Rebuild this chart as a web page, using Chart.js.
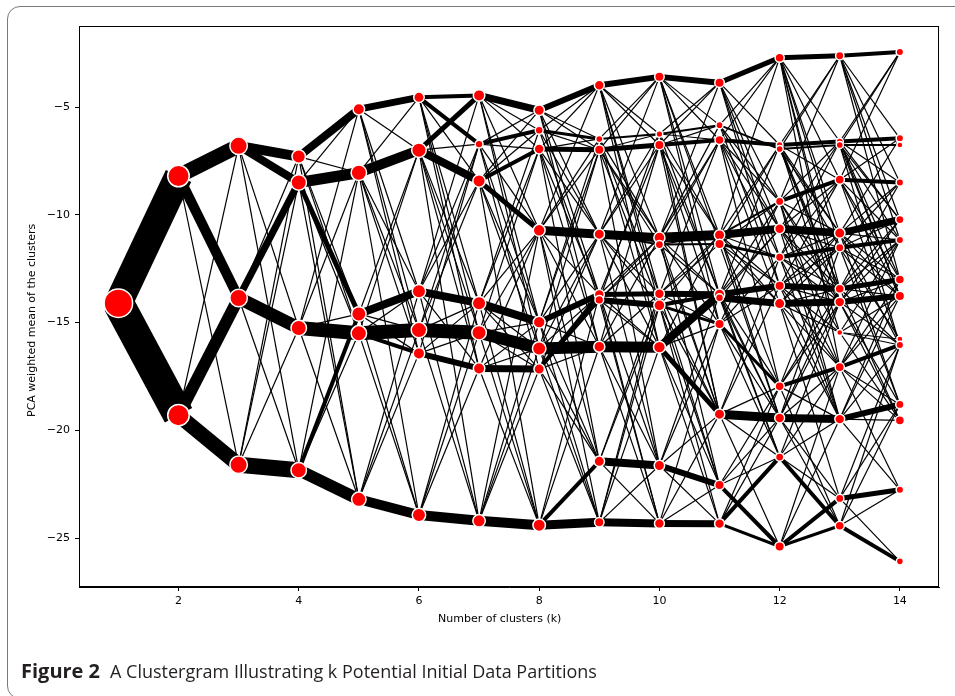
<!DOCTYPE html>
<html><head><meta charset="utf-8">
<script src="https://cdn.jsdelivr.net/npm/chart.js@4.4.1/dist/chart.umd.min.js"></script>
<style>
html,body{margin:0;padding:0;background:#fff;width:955px;height:696px;overflow:hidden;position:relative;}
#frame{position:absolute;left:7px;top:6px;width:980px;height:693px;border:1.5px solid #7a7a7a;border-radius:13px;box-sizing:border-box;}
#c{position:absolute;left:0;top:0;}
.ylab{position:absolute;left:25px;top:417px;transform-origin:0 0;transform:rotate(-90deg);font:11px "DejaVu Sans";line-height:13px;white-space:nowrap;color:#000;}
.xlab{position:absolute;left:438px;top:612px;font:11px "DejaVu Sans";line-height:13px;white-space:nowrap;color:#000;}
.capb{position:absolute;left:21px;top:657px;font:bold 20px "Open Sans",sans-serif;color:#231f20;white-space:nowrap;}
.capt{position:absolute;left:110px;top:659px;font:18px "Open Sans",sans-serif;color:#231f20;white-space:nowrap;}
</style></head>
<body>
<div id="frame"></div>
<canvas id="c" width="955" height="696"></canvas>
<div class="ylab">PCA weighted mean of the clusters</div>
<div class="xlab">Number of clusters (k)</div>
<div class="capb">Figure 2</div>
<div class="capt">A Clustergram Illustrating k Potential Initial Data Partitions</div>
<script>
const kValues = [1,2,3,4,5,6,7,8,9,10,11,12,13,14];
const xTicks = [2,4,6,8,10,12,14];
const yTicks = [-25,-20,-15,-10,-5];

// cluster means (PCA weighted) for each k
const means1 = [-14.1];
const means2 = [-8.2, -19.3];
const means3 = [-6.8, -13.86, -21.6];
const means4 = [-7.3, -8.5, -15.25, -21.85];
const means5 = [-5.1, -8.05, -14.6, -15.5, -23.2];
const means6 = [-4.55, -7.0, -13.55, -15.35, -16.43, -23.93];
const means7 = [-4.46, -6.72, -8.43, -14.1, -15.47, -17.13, -24.2];
const means8 = [-5.15, -6.08, -6.95, -10.72, -14.98, -16.2, -17.16, -24.4];
const means9 = [-3.99, -6.48, -6.98, -10.9, -13.7, -13.95, -16.12, -21.44, -24.27];
const means10 = [-3.6, -6.25, -6.76, -11.06, -11.38, -13.66, -14.2, -16.14, -21.63, -24.32];
const means11 = [-3.87, -5.84, -6.53, -10.94, -11.36, -13.69, -13.85, -15.07, -19.25, -22.54, -24.33];
const means12 = [-2.71, -6.76, -6.95, -9.38, -10.65, -11.97, -13.29, -14.12, -17.96, -19.43, -21.24, -25.39];
const means13 = [-2.62, -6.6, -6.76, -8.37, -10.85, -11.53, -13.43, -14.05, -15.46, -17.07, -19.48, -23.16, -24.43];
const means14 = [-2.45, -6.45, -6.76, -8.5, -10.22, -11.17, -13.0, -13.77, -15.77, -16.04, -18.8, -19.54, -22.76, -26.08];

// cluster weights (marker size) for each k
const weight1 = [13.5];
const weight2 = [10, 10];
const weight3 = [8, 8, 8];
const weight4 = [6, 7, 7, 7];
const weight5 = [5, 7, 6.5, 7, 6.5];
const weight6 = [4.5, 6.5, 6, 7, 5, 6];
const weight7 = [5, 3.2, 5.5, 6, 6.5, 5, 5.5];
const weight8 = [4.5, 3.2, 4.2, 5.2, 5.2, 6, 4.5, 5.5];
const weight9 = [4.2, 2.8, 4, 4.5, 4.2, 3.6, 4.8, 4.5, 4];
const weight10 = [4, 2.6, 4, 4.8, 3.4, 4.2, 4.8, 5.2, 4.5, 4.2];
const weight11 = [4, 2.8, 3.8, 4.5, 4, 4.5, 3.2, 4, 4.5, 4, 4.2];
const weight12 = [3.8, 2.6, 2.8, 3.4, 4.2, 3.4, 4, 4.5, 3.8, 4.2, 3.4, 4];
const weight13 = [3.4, 2.8, 2.8, 3.8, 4.5, 3.4, 3.8, 4.2, 2.3, 3.8, 4.2, 3.4, 3.8];
const weight14 = [3, 3, 2.3, 3, 3.4, 3, 3.8, 4, 2.3, 3, 3.4, 3.8, 3, 2.8];

// strong flows between clusters of consecutive k: [from, to, points]
const flows1 = [[0,0,28],[0,1,31]];
const flows2 = [[0,0,15],[0,1,10],[1,1,12],[1,2,15]];
const flows3 = [[0,0,10],[0,1,8],[1,1,7],[1,2,13],[2,3,16]];
const flows4 = [[0,0,8],[1,1,11],[1,2,5],[2,3,14],[3,4,12],[3,2,4]];
const flows5 = [[0,0,7],[1,1,10],[2,2,8],[3,3,14],[3,4,4],[4,5,10]];
const flows6 = [[0,0,4],[0,1,4],[1,0,5],[1,2,8],[2,3,8],[3,4,14],[4,5,6],[5,6,10]];
const flows7 = [[0,0,7],[1,1,4],[2,2,4],[2,3,5],[3,4,8],[4,5,12],[5,6,7],[6,7,10]];
const flows8 = [[0,0,6],[1,1,3],[2,2,5],[3,3,9],[4,4,6],[5,6,12],[6,4,4],[6,5,3],[7,7,4],[7,8,9]];
const flows9 = [[0,0,6],[1,1,2],[2,2,5],[3,3,9],[3,4,2],[4,5,5],[5,6,6],[6,7,11],[7,8,8],[8,9,8]];
const flows10 = [[0,0,6],[1,1,2],[2,2,4],[3,3,10],[4,4,2],[5,5,6],[6,5,4],[6,7,3],[7,5,8],[7,8,5],[8,9,6],[9,10,7]];
const flows11 = [[0,0,5],[2,1,4],[1,2,2],[3,4,8],[4,5,3],[5,6,6],[6,7,7],[7,8,3],[8,9,9],[9,11,4],[10,10,4],[10,11,3],[3,3,2]];
const flows12 = [[0,0,5],[1,1,4],[2,2,2],[3,3,4],[4,4,8],[5,5,4],[6,6,6],[7,7,7],[8,9,4],[9,10,8],[10,12,4],[11,11,4],[11,12,3]];
const flows13 = [[0,0,4],[1,1,4],[2,2,2],[3,3,4],[4,4,7],[5,5,4],[6,6,5],[7,7,6],[8,8,1],[9,9,4],[10,10,6],[11,12,5],[12,13,4]];

// single-point moves between clusters of consecutive k: [from, to]
const links1 = [];
const links2 = [[1,0],[0,2]];
const links3 = [[0,2],[0,3],[1,0],[1,3],[2,0],[2,1],[2,2]];
const links4 = [[0,1],[0,2],[0,3],[0,4],[1,0],[1,3],[1,4],[2,0],[2,1],[2,4],[3,1],[3,3],[2,2]];
const links5 = [[0,1],[0,2],[0,3],[1,0],[1,2],[1,3],[1,4],[1,5],[2,1],[2,3],[2,4],[2,5],[3,1],[3,2],[3,5],[4,2],[4,3],[4,4],[0,4]];
const links6 = [[0,2],[0,3],[0,4],[0,5],[1,1],[1,3],[1,4],[1,5],[1,6],[2,0],[2,1],[2,2],[2,5],[2,6],[3,1],[3,2],[3,3],[3,6],[4,3],[4,4],[4,1],[5,3],[5,4],[5,5]];
const links7 = [[0,1],[0,2],[0,3],[0,4],[0,5],[1,0],[1,2],[1,3],[1,4],[1,6],[2,0],[2,1],[2,4],[2,5],[2,7],[3,1],[3,2],[3,3],[3,5],[3,6],[3,7],[4,2],[4,3],[4,4],[4,6],[4,7],[5,3],[5,4],[5,5],[5,7],[6,3],[6,4],[6,5],[6,6]];
const links8 = [[0,1],[0,2],[0,3],[0,4],[0,6],[1,0],[1,2],[1,3],[1,5],[2,0],[2,1],[2,3],[2,4],[2,6],[2,7],[3,0],[3,1],[3,2],[3,4],[3,6],[3,7],[3,8],[4,2],[4,3],[4,6],[4,7],[4,8],[5,2],[5,3],[5,4],[5,7],[5,8],[6,3],[6,6],[6,7],[6,8],[7,4],[7,6],[4,1]];
const links9 = [[0,1],[0,2],[0,3],[0,5],[0,6],[0,7],[1,0],[1,3],[1,5],[1,7],[2,0],[2,1],[2,3],[2,4],[2,6],[2,8],[3,0],[3,1],[3,2],[3,5],[3,6],[3,7],[3,8],[4,2],[4,3],[4,7],[4,8],[4,9],[5,1],[5,3],[5,4],[5,7],[5,9],[6,2],[6,3],[6,5],[6,8],[6,9],[7,5],[7,6],[7,9],[8,5],[8,7],[8,6],[8,8]];
const links10 = [[0,1],[0,2],[0,3],[0,4],[0,5],[0,7],[1,0],[1,2],[1,3],[1,5],[1,8],[2,0],[2,1],[2,3],[2,5],[2,7],[2,8],[3,0],[3,1],[3,2],[3,5],[3,7],[3,8],[3,9],[4,2],[4,3],[4,5],[4,8],[5,2],[5,3],[5,4],[5,7],[5,8],[5,9],[6,3],[6,8],[6,9],[6,10],[7,3],[7,7],[7,9],[7,10],[8,5],[8,7],[8,8],[8,10],[9,7],[9,8],[9,9]];
const links11 = [[0,1],[0,3],[0,4],[0,5],[0,6],[1,0],[1,3],[1,4],[1,6],[2,0],[2,3],[2,4],[2,5],[2,7],[2,8],[3,0],[3,1],[3,5],[3,6],[3,7],[3,8],[3,9],[4,1],[4,3],[4,6],[4,7],[4,9],[5,1],[5,3],[5,4],[5,8],[5,9],[5,10],[6,4],[6,6],[6,9],[6,10],[7,3],[7,5],[7,6],[7,9],[7,10],[8,5],[8,6],[8,8],[8,10],[8,11],[9,8],[9,9],[9,10],[10,8],[10,9]];
const links12 = [[0,1],[0,3],[0,4],[0,5],[0,6],[0,7],[0,9],[1,0],[1,3],[1,4],[1,5],[1,6],[1,7],[1,8],[2,0],[2,4],[2,6],[3,0],[3,1],[3,4],[3,6],[3,7],[3,9],[3,10],[4,1],[4,3],[4,5],[4,6],[4,7],[4,8],[4,10],[5,1],[5,3],[5,4],[5,6],[5,7],[5,9],[5,10],[6,3],[6,4],[6,5],[6,7],[6,8],[6,9],[6,10],[7,4],[7,5],[7,6],[7,8],[7,9],[7,10],[7,11],[8,4],[8,6],[8,7],[8,10],[8,12],[9,5],[9,6],[9,7],[9,9],[9,11],[9,12],[10,7],[10,9],[10,10],[10,11],[11,9],[11,10]];
const links13 = [[0,1],[0,3],[0,4],[0,5],[0,6],[1,0],[1,3],[1,4],[1,6],[1,7],[2,0],[2,4],[2,5],[2,7],[2,9],[3,0],[3,1],[3,5],[3,6],[3,7],[3,9],[4,1],[4,3],[4,5],[4,6],[4,7],[4,9],[4,10],[5,3],[5,4],[5,6],[5,7],[5,8],[5,10],[6,3],[6,4],[6,5],[6,7],[6,9],[6,11],[7,4],[7,5],[7,6],[7,9],[7,10],[7,11],[8,5],[8,7],[8,9],[8,11],[9,5],[9,6],[9,7],[9,10],[9,11],[9,12],[10,6],[10,7],[10,9],[10,11],[10,12],[11,9],[11,10],[11,13],[12,10],[12,12],[12,9]];

const means = [means1,means2,means3,means4,means5,means6,means7,means8,means9,means10,means11,means12,means13,means14];
const weights = [weight1,weight2,weight3,weight4,weight5,weight6,weight7,weight8,weight9,weight10,weight11,weight12,weight13,weight14];
const flows = [flows1,flows2,flows3,flows4,flows5,flows6,flows7,flows8,flows9,flows10,flows11,flows12,flows13];
const links = [links1,links2,links3,links4,links5,links6,links7,links8,links9,links10,links11,links12,links13];

const datasets = [];
function edge(xa, ya, xb, yb, w) {
  return {type:'scatter', data:[{x:xa,y:ya},{x:xb,y:yb}], showLine:true, borderColor:'#000',
    backgroundColor:'#000', borderWidth:w, pointRadius:0, pointHoverRadius:0, borderCapStyle:'butt', order:1, tension:0};
}
for (let t = 0; t < flows.length; t++) {
  const xa = kValues[t], xb = kValues[t+1];
  for (const [i,j] of links[t]) datasets.push(edge(xa, means[t][i], xb, means[t+1][j], 1.2));
  for (const [i,j,w] of flows[t]) datasets.push(edge(xa, means[t][i], xb, means[t+1][j], w));
}
const nodePts = [], nodeR = [];
for (let t = 0; t < kValues.length; t++) {
  means[t].forEach((m, i) => { nodePts.push({x:kValues[t], y:m}); nodeR.push(weights[t][i] + 0.75); });
}
datasets.push({type:'scatter', data:nodePts, pointRadius:nodeR, pointHoverRadius:nodeR,
  pointBackgroundColor:'#ff0000', pointBorderColor:'#ffffff', pointBorderWidth:1.5, showLine:false, order:0});

const boxPlugin = {
  id:'box',
  afterDraw(chart) {
    const a = chart.chartArea, ctx = chart.ctx;
    ctx.save(); ctx.strokeStyle = '#000'; ctx.lineWidth = 1;
    ctx.strokeRect(Math.round(a.left)+0.5, Math.round(a.top)+0.5, Math.round(a.right-a.left)-1, Math.round(a.bottom-a.top)-1);
    ctx.restore();
  }
};
const minus = v => (v < 0 ? '\u2212' + Math.abs(v) : String(v));
new Chart(document.getElementById('c'), {
  type:'scatter',
  data:{datasets},
  options:{
    responsive:false, animation:false, devicePixelRatio:1, events:[],
    layout:{padding:{left:0, top:26, right:14, bottom:0}},
    plugins:{legend:{display:false}, tooltip:{enabled:false}},
    scales:{
      x:{type:'linear', min:0.345, max:14.655,
        afterBuildTicks:s => { s.ticks = xTicks.map(v => ({value:v})); },
        afterFit:s => { s.height = 109; },
        ticks:{font:{family:'DejaVu Sans', size:11}, color:'#000', padding:4, maxRotation:0, autoSkip:false, callback:minus},
        grid:{display:true, drawOnChartArea:false, drawTicks:true, tickLength:4, tickColor:'#000', tickWidth:1},
        border:{display:true, color:'#000', width:1}},
      y:{type:'linear', min:-27.27, max:-1.24,
        afterBuildTicks:s => { s.ticks = yTicks.map(v => ({value:v})); },
        afterFit:s => { s.width = 79; },
        ticks:{font:{family:'DejaVu Sans', size:11}, color:'#000', padding:5, autoSkip:false, callback:minus},
        grid:{display:true, drawOnChartArea:false, drawTicks:true, tickLength:4, tickColor:'#000', tickWidth:1},
        border:{display:true, color:'#000', width:1}}
    }
  },
  plugins:[boxPlugin]
});
</script>
</body></html>
